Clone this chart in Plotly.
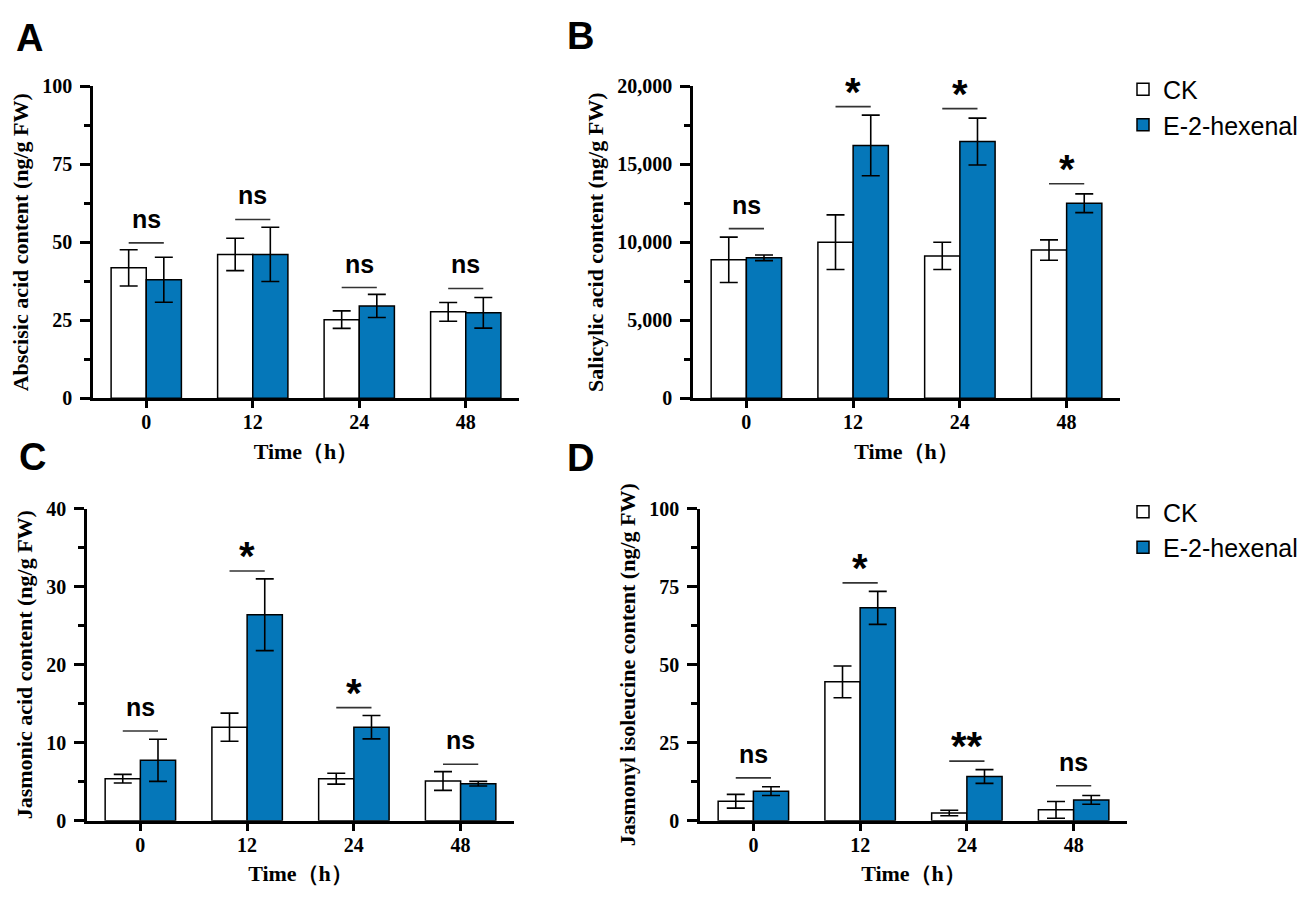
import plotly.graph_objects as go

FIG_W, FIG_H = 1314, 904

TIME_LABELS = ["0", "12", "24", "48"]
GROUPS = ["CK", "E-2-hexenal"]

# panel A: abscisic acid (ng/g FW)
ABA_CK = [41.8, 46.1, 25.2, 27.7]
ABA_CK_SD = [5.8, 5.2, 2.8, 3.0]
ABA_E2H = [38.0, 46.1, 29.6, 27.4]
ABA_E2H_SD = [7.2, 8.7, 3.7, 4.9]
ABA_SIG = ["ns", "ns", "ns", "ns"]
ABA_SIG_Y = [49.8, 57.3, 35.5, 35.2]

# panel B: salicylic acid (ng/g FW)
SA_CK = [8875, 10000, 9125, 9500]
SA_CK_SD = [1450, 1750, 875, 650]
SA_E2H = [9000, 16200, 16450, 12500]
SA_E2H_SD = [180, 1940, 1500, 600]
SA_SIG = ["ns", "*", "*", "*"]
SA_SIG_Y = [10875, 18690, 18560, 13750]

# panel C: jasmonic acid (ng/g FW)
JA_CK = [5.4, 12.0, 5.4, 5.1]
JA_CK_SD = [0.55, 1.8, 0.7, 1.2]
JA_E2H = [7.75, 26.4, 12.0, 4.75]
JA_E2H_SD = [2.7, 4.6, 1.5, 0.3]
JA_SIG = ["ns", "*", "*", "ns"]
JA_SIG_Y = [11.5, 32.0, 14.5, 7.25]

# panel D: jasmonyl isoleucine (ng/g FW)
JAILE_CK = [6.25, 44.5, 2.5, 3.5]
JAILE_CK_SD = [2.2, 5.1, 0.9, 2.7]
JAILE_E2H = [9.5, 68.2, 14.2, 6.7]
JAILE_E2H_SD = [1.4, 5.3, 2.2, 1.4]
JAILE_SIG = ["ns", "*", "**", "ns"]
JAILE_SIG_Y = [13.75, 76.2, 19.1, 11.25]

BLUE = "#0577b9"
SERIF = "Liberation Serif, Times New Roman, serif"
SANS = "Liberation Sans, Arial, sans-serif"
BARGAP = 0.34
HALF = (1 - BARGAP) / 4  # offset of each bar centre from the category centre


def px_x(a, b):
    return [a / FIG_W, b / FIG_W]


def px_y(top, bottom):
    return [1 - bottom / FIG_H, 1 - top / FIG_H]


PANELS = [
    dict(letter="A", ck=ABA_CK, ck_sd=ABA_CK_SD, e=ABA_E2H, e_sd=ABA_E2H_SD,
         sig=ABA_SIG, sig_y=ABA_SIG_Y, ymax=100, dtick=25, fmt="",
         ytitle="Abscisic acid content (ng/g FW)",
         xdom=px_x(93, 519), ydom=px_y(77, 397), legend=None, lpos=(29, 28)),
    dict(letter="B", ck=SA_CK, ck_sd=SA_CK_SD, e=SA_E2H, e_sd=SA_E2H_SD,
         sig=SA_SIG, sig_y=SA_SIG_Y, ymax=20000, dtick=5000, fmt=",",
         ytitle="Salicylic acid content (ng/g FW)",
         xdom=px_x(693, 1120), ydom=px_y(77, 397), legend="legend", lpos=(580, 26)),
    dict(letter="C", ck=JA_CK, ck_sd=JA_CK_SD, e=JA_E2H, e_sd=JA_E2H_SD,
         sig=JA_SIG, sig_y=JA_SIG_Y, ymax=40, dtick=10, fmt="",
         ytitle="Jasmonic acid content (ng/g FW)",
         xdom=px_x(87, 514), ydom=px_y(510, 830), legend=None, lpos=(32, 457)),
    dict(letter="D", ck=JAILE_CK, ck_sd=JAILE_CK_SD, e=JAILE_E2H, e_sd=JAILE_E2H_SD,
         sig=JAILE_SIG, sig_y=JAILE_SIG_Y, ymax=100, dtick=25, fmt="",
         ytitle="Jasmonyl isoleucine content (ng/g FW)",
         xdom=px_x(700, 1127), ydom=px_y(510, 830), legend="legend2", lpos=(580, 458)),
]

fig = go.Figure()
xs = list(range(len(TIME_LABELS)))
annotations = []
layout = {}

for n, p in enumerate(PANELS, start=1):
    sfx = "" if n == 1 else str(n)
    xref, yref = "x" + sfx, "y" + sfx
    series = [
        (GROUPS[0], p["ck"], p["ck_sd"], "white"),
        (GROUPS[1], p["e"], p["e_sd"], BLUE),
    ]
    for name, vals, sd, color in series:
        fig.add_trace(
            go.Bar(
                x=xs,
                y=vals,
                name=name,
                marker=dict(color=color, line=dict(color="black", width=1.5)),
                error_y=dict(type="data", array=sd, color="black", thickness=1.6, width=9),
                xaxis=xref,
                yaxis=yref,
                showlegend=p["legend"] is not None,
                legend=p["legend"] or "legend",
            )
        )

    # significance brackets from CK bar centre to treated bar centre
    line_x, line_y = [], []
    for i, h in zip(xs, p["sig_y"]):
        line_x += [i - HALF, i + HALF, None]
        line_y += [h, h, None]
    fig.add_trace(
        go.Scatter(
            x=line_x, y=line_y, mode="lines",
            line=dict(color="#333333", width=1.6),
            xaxis=xref, yaxis=yref, showlegend=False, hoverinfo="skip",
        )
    )
    for i, h, label in zip(xs, p["sig_y"], p["sig"]):
        star = "*" in label
        annotations.append(
            dict(
                x=i, y=h, xref=xref, yref=yref, text=label, showarrow=False,
                yanchor="middle", yshift=15 if star else 24,
                font=dict(family=SANS, size=40 if star else 25, color="black", weight="bold"),
            )
        )

    annotations.append(
        dict(
            x=p["lpos"][0] / FIG_W, y=1 - p["lpos"][1] / FIG_H, xref="paper", yref="paper",
            text=p["letter"], showarrow=False, xanchor="center", yanchor="middle",
            font=dict(family=SANS, size=38, color="black", weight="bold"),
        )
    )

    tickfont = dict(family=SERIF, size=20, color="black", weight="bold")
    layout["xaxis" + sfx] = dict(
        domain=p["xdom"], anchor=yref, range=[-0.5, len(xs) - 0.5],
        tickmode="array", tickvals=xs, ticktext=TIME_LABELS,
        showline=True, linecolor="black", linewidth=2.5,
        ticks="outside", ticklen=7, tickwidth=2.5, tickcolor="black",
        ticklabelstandoff=-3,
        showgrid=False, zeroline=False, tickfont=tickfont,
        title=dict(text="Time（h）", standoff=12,
                   font=dict(family=SERIF, size=22, color="black", weight="bold")),
    )
    layout["yaxis" + sfx] = dict(
        domain=p["ydom"], anchor=xref, range=[0, p["ymax"]], dtick=p["dtick"],
        tickformat=p["fmt"],
        showline=True, linecolor="black", linewidth=2.5,
        ticks="outside", ticklen=10, tickwidth=2.5, tickcolor="black",
        ticklabelstandoff=4,
        minor=dict(dtick=p["dtick"] / 2, ticks="outside", ticklen=6,
                   tickwidth=2.5, tickcolor="black", showgrid=False),
        showgrid=False, zeroline=False, tickfont=tickfont,
        title=dict(text=p["ytitle"], standoff=8,
                   font=dict(family=SERIF, size=22, color="black", weight="bold")),
    )

legend_style = dict(
    xanchor="left", yanchor="top", bgcolor="rgba(0,0,0,0)",
    font=dict(family=SANS, size=25, color="black"),
    tracegroupgap=0,
)
fig.update_layout(
    width=FIG_W,
    height=FIG_H,
    margin=dict(l=0, r=0, t=0, b=0),
    paper_bgcolor="white",
    plot_bgcolor="white",
    barmode="group",
    bargap=BARGAP,
    bargroupgap=0,
    annotations=annotations,
    legend=dict(x=1123 / FIG_W, y=1 - 57 / FIG_H, **legend_style),
    legend2=dict(x=1123 / FIG_W, y=1 - 490 / FIG_H, **legend_style),
    **layout,
)

# drop the default 8px page margin so the figure sits at the window origin
fig.write_html(
    "out.html",
    config={"displayModeBar": False},
    post_script="document.body.style.margin = '0px';",
)
